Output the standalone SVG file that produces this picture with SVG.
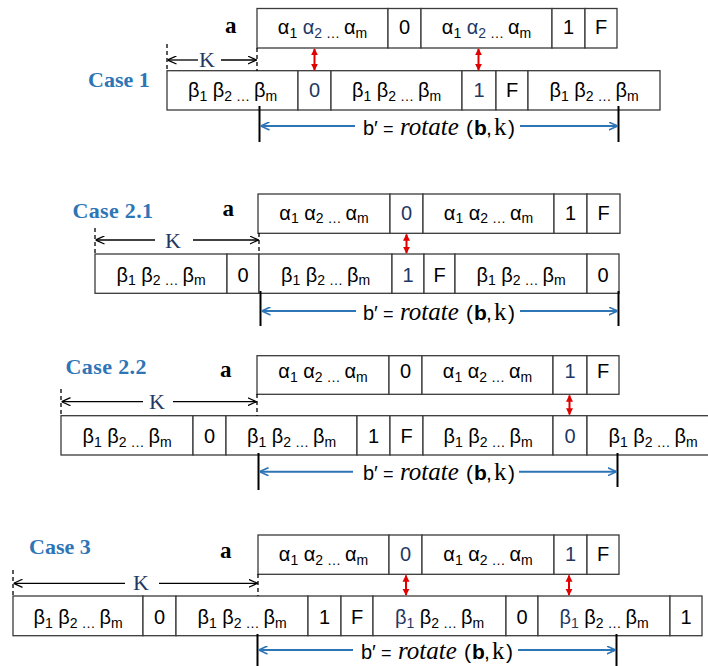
<svg xmlns="http://www.w3.org/2000/svg" width="708" height="666" viewBox="0 0 708 666">
<style>
.box{fill:#fff;stroke:#3a3a3a;stroke-width:1.3}
.t{font-family:"Liberation Sans",Arial,sans-serif;font-size:20px;text-anchor:middle;fill:#000}
.s{font-size:14px}
.n{fill:#1F3864}
.case{font-family:"Liberation Serif","Times New Roman",serif;font-weight:bold;font-size:22px;fill:#2E75B6}
.a{font-family:"Liberation Serif","Times New Roman",serif;font-weight:bold;font-size:23px;fill:#000}
.k{font-family:"Liberation Serif","Times New Roman",serif;font-size:22px;fill:#1F3864;text-anchor:middle}
.bp{font-family:"Liberation Sans",Arial,sans-serif;font-size:21px;fill:#000}
.bq{font-size:20px}
.eq{font-size:18px}
.it{font-family:"Liberation Serif","Times New Roman",serif;font-style:italic;font-size:25px}
.ser{font-family:"Liberation Serif","Times New Roman",serif;font-size:25px}
.kl{stroke:#000;stroke-width:1.3;fill:none;marker-end:url(#openK)}
.dash{stroke:#000;stroke-width:1.3;stroke-dasharray:4 3}
.bl{stroke:#2E75B6;stroke-width:2;fill:none;marker-end:url(#openB)}
.vl{stroke:#000;stroke-width:2}
.rd{stroke:#E00000;stroke-width:2;marker-start:url(#redA);marker-end:url(#redA)}
</style>
<defs>
<marker id="openK" viewBox="0 0 10 10" refX="10" refY="5" markerWidth="9" markerHeight="9" markerUnits="userSpaceOnUse" orient="auto"><path d="M0,0.5 L10,5 L0,9.5" fill="none" stroke="#000" stroke-width="1.4"/></marker>
<marker id="openB" viewBox="0 0 10 10" refX="10" refY="5" markerWidth="9" markerHeight="9" markerUnits="userSpaceOnUse" orient="auto"><path d="M0,0.5 L10,5 L0,9.5" fill="none" stroke="#2E75B6" stroke-width="1.8"/></marker>
<marker id="redA" viewBox="0 0 10 10" refX="9" refY="5" markerWidth="7" markerHeight="8" markerUnits="userSpaceOnUse" orient="auto-start-reverse"><path d="M0,0 L10,5 L0,10 z" fill="#E00000"/></marker>
</defs>

<!-- ================= CASE 1 ================= -->
<text class="case" x="88" y="87">Case 1</text>
<text class="a" x="225" y="33">a</text>
<g id="c1-a">
  <g id="c1-a1"><rect class="box" x="257" y="8.5" width="131" height="39.5"/><text class="t" x="322.5" y="34">α<tspan class="s" dy="3.5">1</tspan><tspan dy="-3.5" class="n"> α</tspan><tspan class="s n" dy="3.5">2</tspan><tspan class="s"> … </tspan><tspan dy="-3.5">α</tspan><tspan class="s" dy="3.5">m</tspan></text></g>
  <g id="c1-a2"><rect class="box" x="388" y="8.5" width="33" height="39.5"/><text class="t" x="404.5" y="34">0</text></g>
  <g id="c1-a3"><rect class="box" x="421" y="8.5" width="131" height="39.5"/><text class="t" x="486.5" y="34">α<tspan class="s" dy="3.5">1</tspan><tspan dy="-3.5" class="n"> α</tspan><tspan class="s n" dy="3.5">2</tspan><tspan class="s"> … </tspan><tspan dy="-3.5">α</tspan><tspan class="s" dy="3.5">m</tspan></text></g>
  <g id="c1-a4"><rect class="box" x="552" y="8.5" width="33" height="39.5"/><text class="t" x="568.5" y="34">1</text></g>
  <g id="c1-a5"><rect class="box" x="585" y="8.5" width="32" height="39.5"/><text class="t" x="601" y="34">F</text></g>
</g>
<g id="c1-b">
  <g id="c1-b1"><rect class="box" x="167" y="70.7" width="131" height="39.3"/><text class="t" x="232.5" y="97">β<tspan class="s" dy="3.5">1</tspan><tspan dy="-3.5"> β</tspan><tspan class="s" dy="3.5">2 … </tspan><tspan dy="-3.5">β</tspan><tspan class="s" dy="3.5">m</tspan></text></g>
  <g id="c1-b2"><rect class="box" x="298" y="70.7" width="33" height="39.3"/><text class="t n" x="314.5" y="97">0</text></g>
  <g id="c1-b3"><rect class="box" x="331" y="70.7" width="131" height="39.3"/><text class="t" x="396.5" y="97">β<tspan class="s" dy="3.5">1</tspan><tspan dy="-3.5"> β</tspan><tspan class="s" dy="3.5">2 … </tspan><tspan dy="-3.5">β</tspan><tspan class="s" dy="3.5">m</tspan></text></g>
  <g id="c1-b4"><rect class="box" x="462" y="70.7" width="34" height="39.3"/><text class="t n" x="479" y="97">1</text></g>
  <g id="c1-b5"><rect class="box" x="496" y="70.7" width="32" height="39.3"/><text class="t" x="512" y="97">F</text></g>
  <g id="c1-b6"><rect class="box" x="528" y="70.7" width="132" height="39.3"/><text class="t" x="594" y="97">β<tspan class="s" dy="3.5">1</tspan><tspan dy="-3.5"> β</tspan><tspan class="s" dy="3.5">2 … </tspan><tspan dy="-3.5">β</tspan><tspan class="s" dy="3.5">m</tspan></text></g>
</g>
<text class="k" x="207" y="67">K</text>
<text class="bp" y="134.5"><tspan x="363" class="bq">b′</tspan><tspan x="383" class="eq">=</tspan><tspan x="400" class="it">rotate</tspan><tspan x="466">(</tspan><tspan x="474" font-weight="bold">b</tspan><tspan x="486">,</tspan><tspan x="494" class="ser">k</tspan><tspan x="508">)</tspan></text>

<!-- ================= CASE 2.1 ================= -->
<text class="case" x="72.5" y="218" textLength="80.5">Case 2.1</text>
<text class="a" x="222.5" y="216">a</text>
<g id="c21-a">
  <g id="c21-a1"><rect class="box" x="258" y="194" width="132" height="39.3"/><text class="t" x="324" y="219.5">α<tspan class="s" dy="3.5">1</tspan><tspan dy="-3.5"> α</tspan><tspan class="s" dy="3.5">2 … </tspan><tspan dy="-3.5">α</tspan><tspan class="s" dy="3.5">m</tspan></text></g>
  <g id="c21-a2"><rect class="box" x="390" y="194" width="33" height="39.3"/><text class="t n" x="406.5" y="219.5">0</text></g>
  <g id="c21-a3"><rect class="box" x="423" y="194" width="131" height="39.3"/><text class="t" x="488.5" y="219.5">α<tspan class="s" dy="3.5">1</tspan><tspan dy="-3.5"> α</tspan><tspan class="s" dy="3.5">2 … </tspan><tspan dy="-3.5">α</tspan><tspan class="s" dy="3.5">m</tspan></text></g>
  <g id="c21-a4"><rect class="box" x="554" y="194" width="33" height="39.3"/><text class="t" x="570.5" y="219.5">1</text></g>
  <g id="c21-a5"><rect class="box" x="587" y="194" width="33" height="39.3"/><text class="t" x="603.5" y="219.5">F</text></g>
</g>
<g id="c21-b">
  <g id="c21-b1"><rect class="box" x="95" y="254" width="132" height="39.3"/><text class="t" x="161" y="281.5">β<tspan class="s" dy="3.5">1</tspan><tspan dy="-3.5"> β</tspan><tspan class="s" dy="3.5">2 … </tspan><tspan dy="-3.5">β</tspan><tspan class="s" dy="3.5">m</tspan></text></g>
  <g id="c21-b2"><rect class="box" x="227" y="254" width="32" height="39.3"/><text class="t" x="243" y="281.5">0</text></g>
  <g id="c21-b3"><rect class="box" x="259" y="254" width="133" height="39.3"/><text class="t" x="325.5" y="281.5">β<tspan class="s" dy="3.5">1</tspan><tspan dy="-3.5"> β</tspan><tspan class="s" dy="3.5">2 … </tspan><tspan dy="-3.5">β</tspan><tspan class="s" dy="3.5">m</tspan></text></g>
  <g id="c21-b4"><rect class="box" x="392" y="254" width="32" height="39.3"/><text class="t n" x="408" y="281.5">1</text></g>
  <g id="c21-b5"><rect class="box" x="424" y="254" width="31" height="39.3"/><text class="t" x="439.5" y="281.5">F</text></g>
  <g id="c21-b6"><rect class="box" x="455" y="254" width="132" height="39.3"/><text class="t" x="521" y="281.5">β<tspan class="s" dy="3.5">1</tspan><tspan dy="-3.5"> β</tspan><tspan class="s" dy="3.5">2 … </tspan><tspan dy="-3.5">β</tspan><tspan class="s" dy="3.5">m</tspan></text></g>
  <g id="c21-b7"><rect class="box" x="587" y="254" width="32" height="39.3"/><text class="t" x="603" y="281.5">0</text></g>
</g>
<text class="k" x="173" y="248">K</text>
<text class="bp" y="319.5"><tspan x="363" class="bq">b′</tspan><tspan x="383" class="eq">=</tspan><tspan x="400" class="it">rotate</tspan><tspan x="466">(</tspan><tspan x="474" font-weight="bold">b</tspan><tspan x="486">,</tspan><tspan x="494" class="ser">k</tspan><tspan x="508">)</tspan></text>

<!-- ================= CASE 2.2 ================= -->
<text class="case" x="65.5" y="373.5" textLength="81">Case 2.2</text>
<text class="a" x="220" y="377">a</text>
<g id="c22-a">
  <g id="c22-a1"><rect class="box" x="257" y="355.7" width="132" height="38.6"/><text class="t" x="323" y="378">α<tspan class="s" dy="3.5">1</tspan><tspan dy="-3.5"> α</tspan><tspan class="s" dy="3.5">2 … </tspan><tspan dy="-3.5">α</tspan><tspan class="s" dy="3.5">m</tspan></text></g>
  <g id="c22-a2"><rect class="box" x="389" y="355.7" width="33" height="38.6"/><text class="t" x="405.5" y="378">0</text></g>
  <g id="c22-a3"><rect class="box" x="422" y="355.7" width="131" height="38.6"/><text class="t" x="487.5" y="378">α<tspan class="s" dy="3.5">1</tspan><tspan dy="-3.5"> α</tspan><tspan class="s" dy="3.5">2 … </tspan><tspan dy="-3.5">α</tspan><tspan class="s" dy="3.5">m</tspan></text></g>
  <g id="c22-a4"><rect class="box" x="553" y="355.7" width="34" height="38.6"/><text class="t n" x="570" y="378">1</text></g>
  <g id="c22-a5"><rect class="box" x="587" y="355.7" width="32" height="38.6"/><text class="t" x="603" y="378">F</text></g>
</g>
<g id="c22-b">
  <g id="c22-b1"><rect class="box" x="61" y="415.7" width="132" height="39.3"/><text class="t" x="127" y="443">β<tspan class="s" dy="3.5">1</tspan><tspan dy="-3.5"> β</tspan><tspan class="s" dy="3.5">2 … </tspan><tspan dy="-3.5">β</tspan><tspan class="s" dy="3.5">m</tspan></text></g>
  <g id="c22-b2"><rect class="box" x="193" y="415.7" width="33" height="39.3"/><text class="t" x="209.5" y="443">0</text></g>
  <g id="c22-b3"><rect class="box" x="226" y="415.7" width="131" height="39.3"/><text class="t" x="291.5" y="443">β<tspan class="s" dy="3.5">1</tspan><tspan dy="-3.5"> β</tspan><tspan class="s" dy="3.5">2 … </tspan><tspan dy="-3.5">β</tspan><tspan class="s" dy="3.5">m</tspan></text></g>
  <g id="c22-b4"><rect class="box" x="357" y="415.7" width="33" height="39.3"/><text class="t" x="373.5" y="443">1</text></g>
  <g id="c22-b5"><rect class="box" x="390" y="415.7" width="33" height="39.3"/><text class="t" x="406.5" y="443">F</text></g>
  <g id="c22-b6"><rect class="box" x="423" y="415.7" width="130" height="39.3"/><text class="t" x="488" y="443">β<tspan class="s" dy="3.5">1</tspan><tspan dy="-3.5"> β</tspan><tspan class="s" dy="3.5">2 … </tspan><tspan dy="-3.5">β</tspan><tspan class="s" dy="3.5">m</tspan></text></g>
  <g id="c22-b7"><rect class="box" x="553" y="415.7" width="34" height="39.3"/><text class="t n" x="570" y="443">0</text></g>
  <g id="c22-b8"><rect class="box" x="587" y="415.7" width="132" height="39.3"/><text class="t" x="653" y="443">β<tspan class="s" dy="3.5">1</tspan><tspan dy="-3.5"> β</tspan><tspan class="s" dy="3.5">2 … </tspan><tspan dy="-3.5">β</tspan><tspan class="s" dy="3.5">m</tspan></text></g>
</g>
<text class="k" x="157" y="409">K</text>
<text class="bp" y="480"><tspan x="363" class="bq">b′</tspan><tspan x="383" class="eq">=</tspan><tspan x="400" class="it">rotate</tspan><tspan x="466">(</tspan><tspan x="474" font-weight="bold">b</tspan><tspan x="486">,</tspan><tspan x="494" class="ser">k</tspan><tspan x="508">)</tspan></text>

<!-- ================= CASE 3 ================= -->
<text class="case" x="29" y="553.5">Case 3</text>
<text class="a" x="220" y="558">a</text>
<g id="c3-a">
  <g id="c3-a1"><rect class="box" x="258" y="535" width="131" height="39.3"/><text class="t" x="323.5" y="561">α<tspan class="s" dy="3.5">1</tspan><tspan dy="-3.5"> α</tspan><tspan class="s" dy="3.5">2 … </tspan><tspan dy="-3.5">α</tspan><tspan class="s" dy="3.5">m</tspan></text></g>
  <g id="c3-a2"><rect class="box" x="389" y="535" width="33" height="39.3"/><text class="t n" x="405.5" y="561">0</text></g>
  <g id="c3-a3"><rect class="box" x="422" y="535" width="132" height="39.3"/><text class="t" x="488" y="561">α<tspan class="s" dy="3.5">1</tspan><tspan dy="-3.5"> α</tspan><tspan class="s" dy="3.5">2 … </tspan><tspan dy="-3.5">α</tspan><tspan class="s" dy="3.5">m</tspan></text></g>
  <g id="c3-a4"><rect class="box" x="554" y="535" width="33" height="39.3"/><text class="t n" x="570.5" y="561">1</text></g>
  <g id="c3-a5"><rect class="box" x="587" y="535" width="32" height="39.3"/><text class="t" x="603" y="561">F</text></g>
</g>
<g id="c3-b">
  <g id="c3-b1"><rect class="box" x="13" y="596" width="130" height="39.7"/><text class="t" x="78" y="624">β<tspan class="s" dy="3.5">1</tspan><tspan dy="-3.5"> β</tspan><tspan class="s" dy="3.5">2 … </tspan><tspan dy="-3.5">β</tspan><tspan class="s" dy="3.5">m</tspan></text></g>
  <g id="c3-b2"><rect class="box" x="143" y="596" width="33" height="39.7"/><text class="t" x="159.5" y="624">0</text></g>
  <g id="c3-b3"><rect class="box" x="176" y="596" width="132" height="39.7"/><text class="t" x="242" y="624">β<tspan class="s" dy="3.5">1</tspan><tspan dy="-3.5"> β</tspan><tspan class="s" dy="3.5">2 … </tspan><tspan dy="-3.5">β</tspan><tspan class="s" dy="3.5">m</tspan></text></g>
  <g id="c3-b4"><rect class="box" x="308" y="596" width="33" height="39.7"/><text class="t" x="324.5" y="624">1</text></g>
  <g id="c3-b5"><rect class="box" x="341" y="596" width="32" height="39.7"/><text class="t" x="357" y="624">F</text></g>
  <g id="c3-b6"><rect class="box" x="373" y="596" width="133" height="39.7"/><text class="t" x="439.5" y="624"><tspan class="n">β</tspan><tspan class="s n" dy="3.5">1</tspan><tspan dy="-3.5"> β</tspan><tspan class="s" dy="3.5">2 … </tspan><tspan dy="-3.5">β</tspan><tspan class="s" dy="3.5">m</tspan></text></g>
  <g id="c3-b7"><rect class="box" x="506" y="596" width="32" height="39.7"/><text class="t" x="522" y="624">0</text></g>
  <g id="c3-b8"><rect class="box" x="538" y="596" width="132" height="39.7"/><text class="t" x="604" y="624"><tspan class="n">β</tspan><tspan class="s n" dy="3.5">1</tspan><tspan dy="-3.5"> β</tspan><tspan class="s" dy="3.5">2 … </tspan><tspan dy="-3.5">β</tspan><tspan class="s" dy="3.5">m</tspan></text></g>
  <g id="c3-b9"><rect class="box" x="670" y="596" width="32" height="39.7"/><text class="t" x="686" y="624">1</text></g>
</g>
<text class="k" x="141" y="590">K</text>
<text class="bp" y="658.5"><tspan x="361" class="bq">b′</tspan><tspan x="381" class="eq">=</tspan><tspan x="398" class="it">rotate</tspan><tspan x="464">(</tspan><tspan x="472" font-weight="bold">b</tspan><tspan x="484">,</tspan><tspan x="492" class="ser">k</tspan><tspan x="506">)</tspan></text>

<!-- ================= CONNECTORS ================= -->
<g id="connectors">
  <!-- case 1 -->
  <line class="dash" x1="167" y1="44" x2="167" y2="71"/>
  <line class="dash" x1="257" y1="48" x2="257" y2="71"/>
  <line class="kl" x1="198" y1="60" x2="167.5" y2="60"/>
  <line class="kl" x1="221" y1="60" x2="256.5" y2="60"/>
  <line class="rd" x1="314.5" y1="49" x2="314.5" y2="70"/>
  <line class="rd" x1="478.5" y1="49" x2="478.5" y2="70"/>
  <line class="vl" x1="259.5" y1="106" x2="259.5" y2="142"/>
  <line class="vl" x1="618.5" y1="106" x2="618.5" y2="142"/>
  <line class="bl" x1="355" y1="126" x2="260.5" y2="126"/>
  <line class="bl" x1="520" y1="126" x2="617.5" y2="126"/>
  <!-- case 2.1 -->
  <line class="dash" x1="95" y1="228" x2="95" y2="254"/>
  <line class="dash" x1="259" y1="233" x2="259" y2="254"/>
  <line class="kl" x1="155" y1="240" x2="95.5" y2="240"/>
  <line class="kl" x1="193" y1="240" x2="258.5" y2="240"/>
  <line class="rd" x1="406.5" y1="234.5" x2="406.5" y2="253"/>
  <line class="vl" x1="260.5" y1="291" x2="260.5" y2="326"/>
  <line class="vl" x1="618.5" y1="291" x2="618.5" y2="326"/>
  <line class="bl" x1="356" y1="311" x2="261.5" y2="311"/>
  <line class="bl" x1="520" y1="311" x2="617.5" y2="311"/>
  <!-- case 2.2 -->
  <line class="dash" x1="61" y1="389" x2="61" y2="416"/>
  <line class="dash" x1="257" y1="394" x2="257" y2="416"/>
  <line class="kl" x1="143" y1="401.7" x2="61.5" y2="401.7"/>
  <line class="kl" x1="173" y1="401.7" x2="256.5" y2="401.7"/>
  <line class="rd" x1="569.5" y1="395.5" x2="569.5" y2="414.5"/>
  <line class="vl" x1="258.5" y1="453" x2="258.5" y2="490"/>
  <line class="vl" x1="617.5" y1="453" x2="617.5" y2="487"/>
  <line class="bl" x1="353" y1="471.7" x2="259.5" y2="471.7"/>
  <line class="bl" x1="519" y1="471.7" x2="616.5" y2="471.7"/>
  <!-- case 3 -->
  <line class="dash" x1="13" y1="570" x2="13" y2="596"/>
  <line class="dash" x1="258" y1="574" x2="258" y2="596"/>
  <line class="kl" x1="125" y1="583.3" x2="13.5" y2="583.3"/>
  <line class="kl" x1="159" y1="583.3" x2="257.5" y2="583.3"/>
  <line class="rd" x1="406" y1="575.5" x2="406" y2="595"/>
  <line class="rd" x1="569" y1="575.5" x2="569" y2="595"/>
  <line class="vl" x1="257.5" y1="634" x2="257.5" y2="666"/>
  <line class="vl" x1="616.5" y1="634" x2="616.5" y2="666"/>
  <line class="bl" x1="353" y1="650" x2="258.5" y2="650"/>
  <line class="bl" x1="518" y1="650" x2="615.5" y2="650"/>
</g>
</svg>
